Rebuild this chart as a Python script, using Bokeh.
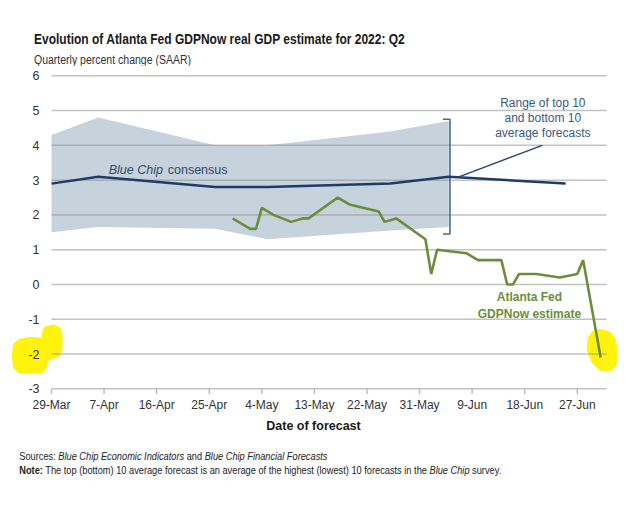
from bokeh.plotting import figure
from bokeh.models import Range1d, FixedTicker, Div, Label, PolyAnnotation
from bokeh.layouts import column
from bokeh.core.properties import value
from bokeh.embed import file_html
from bokeh.resources import INLINE

# ---- data (x = days since 29-Mar-2022) ----
tick_days = [0, 9, 18, 27, 36, 45, 54, 63, 72, 81, 90]
tick_labels = ["29-Mar", "7-Apr", "16-Apr", "25-Apr", "4-May", "13-May",
               "22-May", "31-May", "9-Jun", "18-Jun", "27-Jun"]
y_ticks = [-3, -2, -1, 0, 1, 2, 3, 4, 5, 6]
y_tick_labels = ["-3", "-2", "-1", "0", "1", "2", "3", "4", "5", "6"]
x_start, x_end = 0, 95
y_min = -3

band_days = [0, 8, 28, 37, 58, 68]
band_upper = [4.3, 4.8, 4.0, 4.0, 4.4, 4.7]
band_lower = [1.5, 1.65, 1.6, 1.3, 1.55, 1.65]

bluechip_days = [0, 8, 28, 37, 58, 68, 88]
bluechip_vals = [2.9, 3.1, 2.8, 2.8, 2.9, 3.1, 2.9]

gdpnow_days = [31, 34, 35, 36, 38, 41, 43, 44, 49, 51, 56, 57, 59, 64, 65, 66,
               71, 73, 77, 78, 79, 80, 83, 87, 90, 91, 94]
gdpnow_vals = [1.9, 1.6, 1.6, 2.2, 2.0, 1.8, 1.9, 1.9, 2.5, 2.3, 2.1, 1.8, 1.9,
               1.3, 0.3, 1.0, 0.9, 0.7, 0.7, 0.0, 0.0, 0.3, 0.3, 0.2, 0.3, 0.7, -2.1]

# hand-drawn yellow highlighter marks of the reference (annotation shapes)
hl_left_x = [-1.20, 0.51, 1.54, 1.88, 1.88, 1.37, 0.0, -0.68, -0.86, -1.71, -5.48, -6.51,
             -6.85, -6.51, -5.48, -3.77, -1.71, -1.54]
hl_left_y = [-1.21, -1.15, -1.24, -1.47, -1.84, -2.07, -2.16, -2.22, -2.42, -2.56, -2.56, -2.42,
             -2.05, -1.70, -1.56, -1.50, -1.53, -1.33]
hl_right_x = [93.84, 95.55, 96.58, 96.92, 96.75, 95.72, 93.84, 92.47, 91.61, 91.78, 92.64]
hl_right_y = [-1.27, -1.35, -1.56, -1.90, -2.31, -2.51, -2.48, -2.25, -1.90, -1.53, -1.33]

SANS = "Liberation Sans"

p = figure(frame_width=608, frame_height=329, output_backend="svg",
           toolbar_location=None, x_range=Range1d(-7.19, 96.88), y_range=Range1d(-3.25, 6.21),
           min_border_left=9, min_border_right=0, min_border_top=3,
           min_border_bottom=37)
p.outline_line_color = None
p.background_fill_color = "white"
p.yaxis.visible = False
p.xgrid.grid_line_color = None
p.ygrid.grid_line_color = None

p.add_layout(PolyAnnotation(xs=hl_left_x, ys=hl_left_y, fill_color="#fff200", fill_alpha=0.95,
                            line_color=None, level="underlay"))
p.add_layout(PolyAnnotation(xs=hl_right_x, ys=hl_right_y, fill_color="#fff200", fill_alpha=0.95,
                            line_color=None, level="underlay"))

band = p.varea(x=band_days, y1=band_lower, y2=band_upper, fill_color="#c6d3dd")
band.level = "image"

# horizontal gridlines, x-axis tick marks and y tick labels
p.segment(x0=[x_start] * len(y_ticks), x1=[x_end] * len(y_ticks), y0=y_ticks, y1=y_ticks,
          line_color="#8f8f8f", line_alpha=0.55, line_width=1.5)
p.segment(x0=tick_days, x1=tick_days, y0=[y_min] * len(tick_days), y1=[y_min - 0.15] * len(tick_days),
          line_color="#bdbdbd", line_width=1.5)
p.text(x=[x_start] * len(y_ticks), y=y_ticks, text=y_tick_labels, x_offset=-12,
       text_align="right", text_baseline="middle", text_font=value(SANS),
       text_font_size="12.5px", text_color="#333333")

# bracket at right edge of band
bx = band_days[-1] + 0.2
p.line(x=[bx - 1.2, bx, bx, bx - 1.2],
       y=[band_upper[-1] + 0.05, band_upper[-1] + 0.05, band_lower[-1] - 0.2, band_lower[-1] - 0.2],
       line_color="#4a6a8e", line_width=1.6)

p.line(x=bluechip_days, y=bluechip_vals, line_color="#1f3b68", line_width=2.5)
p.line(x=gdpnow_days, y=gdpnow_vals, line_color="#6b8e3a", line_width=2.6)

# leader line for range annotation
p.line(x=[bluechip_days[5] + 1.5, 84], y=[bluechip_vals[5] - 0.02, 4.0],
       line_color="#2a4470", line_width=1.5)

# x axis (labels only; baseline and ticks drawn above)
p.xaxis.ticker = FixedTicker(ticks=tick_days)
p.xaxis.major_label_overrides = {d: l for d, l in zip(tick_days, tick_labels)}
p.xaxis.axis_line_color = None
p.xaxis.major_tick_line_color = None
p.xaxis.major_tick_out = 0
p.xaxis.major_tick_in = 0
p.xaxis.minor_tick_line_color = None
p.xaxis.major_label_standoff = 0
p.xaxis.major_label_text_font = SANS
p.xaxis.major_label_text_font_size = "12px"
p.xaxis.major_label_text_color = "#333333"
p.xaxis.axis_label = "Date of forecast"
p.xaxis.axis_label_text_font = SANS
p.xaxis.axis_label_text_font_style = "bold"
p.xaxis.axis_label_text_font_size = "12.5px"
p.xaxis.axis_label_text_color = "#1a1a1a"
p.xaxis.axis_label_standoff = 4

# text annotations
p.add_layout(Label(x=9.8, y=3.29, text="Blue Chip", text_font=SANS, text_font_style="italic",
                   text_font_size="12.5px", text_color="#2e4a70", text_align="left", text_baseline="middle"))
p.add_layout(Label(x=19.9, y=3.29, text="consensus", text_font=SANS,
                   text_font_size="12.5px", text_color="#2e4a70", text_align="left", text_baseline="middle"))
for txt, yy in [("Range of top 10", 5.22), ("and bottom 10", 4.78), ("average forecasts", 4.35)]:
    p.add_layout(Label(x=84.1, y=yy, text=txt, text_font=SANS, text_font_size="12px",
                       text_color="#3a5a82", text_align="center", text_baseline="middle"))
for txt, yy in [("Atlanta Fed", -0.37), ("GDPNow estimate", -0.84)]:
    p.add_layout(Label(x=81.8, y=yy, text=txt, text_font=SANS, text_font_style="bold",
                       text_font_size="12px", text_color="#6b8e3a", text_align="center", text_baseline="middle"))

FONT = "font-family:'Liberation Sans',sans-serif;"
title_div = Div(width=614, height=55, text=(
    "<div style=\"padding-left:29px;padding-top:26px;" + FONT + "\">"
    "<div style='font-size:15px;font-weight:bold;color:#1a1a1a;line-height:16px;height:16px;"
    "white-space:nowrap;transform:scaleX(0.8);transform-origin:left center;'>"
    "Evolution of Atlanta Fed GDPNow real GDP estimate for 2022: Q2</div>"
    "<div style='font-size:12.5px;color:#333;line-height:14px;margin-top:6px;white-space:nowrap;"
    "transform:scaleX(0.84);transform-origin:left center;'>Quarterly percent change (SAAR)</div>"
    "</div>"))

footer_div = Div(width=614, height=50, text=(
    "<div style=\"padding-left:17px;padding-top:9px;" + FONT +
    "font-size:11px;color:#222;line-height:14px;white-space:nowrap;transform:scaleX(0.84);transform-origin:left top;\">"
    "<div>Sources: <i>Blue Chip Economic Indicators</i> and <i>Blue Chip Financial Forecasts</i></div>"
    "<div><b>Note:</b> The top (bottom) 10 average forecast is an average of the highest (lowest) 10 forecasts in the <i>Blue Chip</i> survey.</div>"
    "</div>"))

layout = column(title_div, p, footer_div, spacing=0)

open("out.html", "w").write(file_html(layout, INLINE))
